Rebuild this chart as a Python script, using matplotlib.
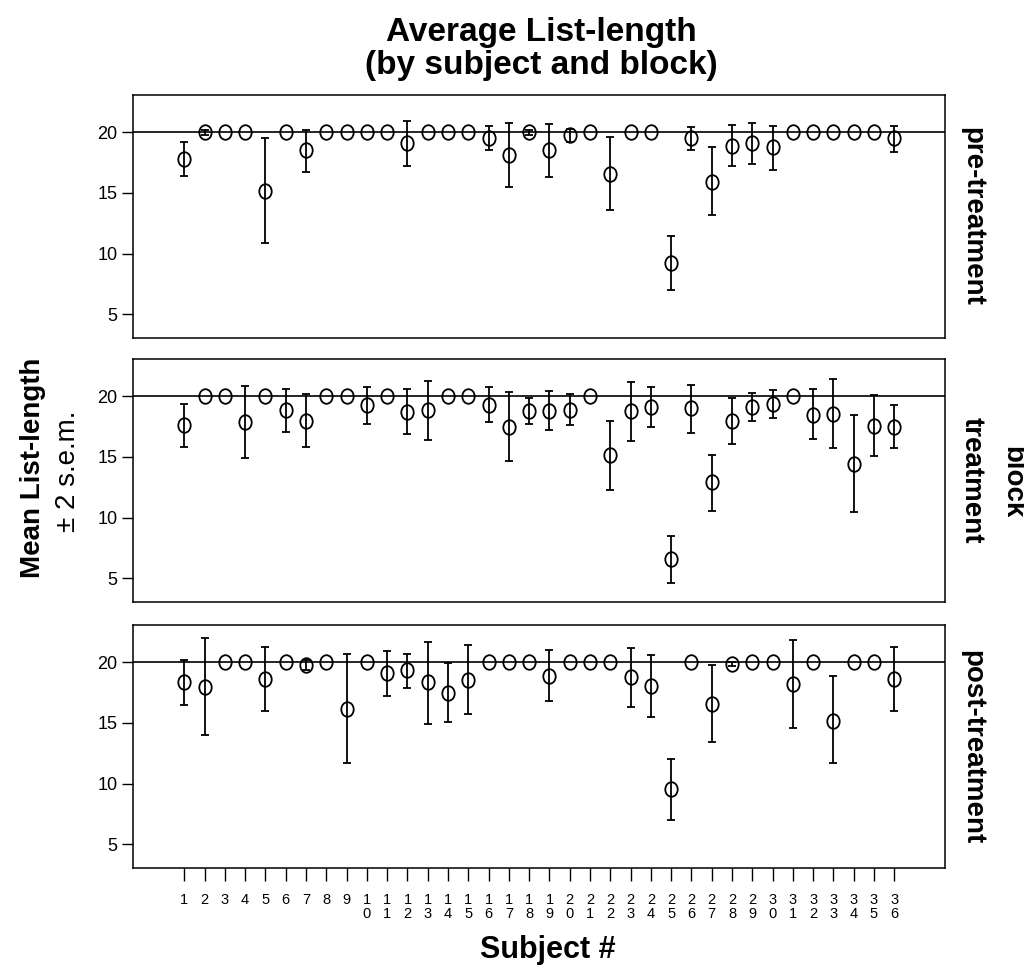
import numpy as np
import matplotlib
matplotlib.use("Agg")
import matplotlib.pyplot as plt
from matplotlib.path import Path

plt.rcParams['font.family'] = ['Liberation Sans', 'DejaVu Sans']

nan = np.nan
subjects = list(range(1, 37))
blocks = ["pre-treatment", "treatment", "post-treatment"]

# mean, lower and upper end of the +-2 s.e.m. bar (nan = no bar)
pre_mean = [17.8, 20.0, 20, 20, 15.2, 20, 18.5, 20, 20, 20, 20, 19.1, 20, 20, 20, 19.5, 18.1, 20.0,
            18.5, 19.75, 20, 16.6, 20, 20, 9.25, 19.5, 15.9, 18.9, 19.1, 18.75, 20, 20, 20, 20, 20, 19.5]
pre_lo = [16.4, 19.8, nan, nan, 10.9, nan, 16.75, nan, nan, nan, nan, 17.2, nan, nan, nan, 18.5, 15.45, 19.8,
          16.35, 19.2, nan, 13.6, nan, nan, 7.0, 18.55, 13.15, 17.2, 17.35, 16.9, nan, nan, nan, nan, nan, 18.4]
pre_hi = [19.2, 20.2, nan, nan, 19.5, nan, 20.2, nan, nan, nan, nan, 20.9, nan, nan, nan, 20.5, 20.75, 20.2,
          20.65, 20.25, nan, 19.65, nan, nan, 11.45, 20.45, 18.75, 20.6, 20.75, 20.55, nan, nan, nan, nan, nan, 20.55]

trt_mean = [17.6, 20, 20, 17.85, 20, 18.85, 18.0, 20, 20, 19.25, 20, 18.7, 18.85, 20, 20, 19.3, 17.5, 18.75,
            18.8, 18.9, 20, 15.15, 18.75, 19.1, 6.55, 19.0, 12.9, 18.0, 19.15, 19.4, 20, 18.45, 18.55, 14.45, 17.55, 17.45]
trt_lo = [15.85, nan, nan, 14.9, nan, 17.05, 15.8, nan, nan, 17.75, nan, 16.85, 16.4, nan, nan, 17.85, 14.65, 17.7,
          17.25, 17.65, nan, 12.3, 16.35, 17.45, 4.6, 17.0, 10.55, 16.05, 18.0, 18.2, nan, 16.45, 15.7, 10.45, 15.05, 15.75]
trt_hi = [19.4, nan, nan, 20.85, nan, 20.6, 20.2, nan, nan, 20.8, nan, 20.6, 21.25, nan, nan, 20.75, 20.35, 19.9,
          20.4, 20.15, nan, 18.0, 21.2, 20.75, 8.45, 20.95, 15.2, 19.9, 20.3, 20.55, nan, 20.6, 21.4, 18.45, 20.1, 19.25]

post_mean = [18.35, 17.95, 20, 20, 18.65, 20, 19.75, 20, 16.15, 20, 19.1, 19.35, 18.35, 17.5, 18.55, 20, 20, 20,
             18.9, 20, 20, 20, 18.75, 18.05, 9.55, 20, 16.6, 19.85, 20, 20, 18.2, 20, 15.2, 20, 20, 18.65]
post_lo = [16.45, 14.0, nan, nan, 15.95, nan, 19.35, nan, 11.7, nan, 17.25, 17.9, 14.95, 15.05, 15.7, nan, nan, nan,
           16.8, nan, nan, nan, 16.35, 15.5, 7.0, nan, 13.45, 19.7, nan, nan, 14.55, nan, 11.7, nan, nan, 16.0]
post_hi = [20.2, 22.0, nan, nan, 21.3, nan, 20.2, nan, 20.65, nan, 20.9, 20.7, 21.7, 19.95, 21.45, nan, nan, nan,
           21.05, nan, nan, nan, 21.2, 20.6, 12.05, nan, 19.75, 20.05, nan, nan, 21.85, nan, 18.85, nan, nan, 21.3]

means = [pre_mean, trt_mean, post_mean]
lows = [pre_lo, trt_lo, post_lo]
highs = [pre_hi, trt_hi, post_hi]

# slightly tall open circle, like the original
uc = Path.unit_circle()
oval = Path(uc.vertices * [0.85, 1.0], uc.codes)

fig = plt.figure(figsize=(10.24, 9.68), dpi=100)

left, width = 133 / 1024, 812 / 1024
bottoms = [1 - 338 / 968, 1 - 602 / 968, 1 - 868 / 968]
height = 242.7 / 968

for i in range(3):
    ax = fig.add_axes([left, bottoms[i], width, height])
    x = np.array(subjects)
    m = np.array(means[i], dtype=float)
    lo = np.array(lows[i], dtype=float)
    hi = np.array(highs[i], dtype=float)

    ax.axhline(20, color='black', lw=1.2, zorder=1)

    has = ~np.isnan(lo)
    ax.errorbar(x[has], m[has], yerr=[m[has] - lo[has], hi[has] - m[has]],
                fmt='none', ecolor='black', elinewidth=1.3, capsize=3, capthick=1.3, zorder=2)
    ax.plot(x, m, linestyle='none', marker=oval, markersize=10.5,
            markerfacecolor='none', markeredgecolor='black', markeredgewidth=1.3, zorder=3)

    ax.set_xlim(-1.53, 38.5)
    ax.set_ylim(3.04, 23.05)
    ax.set_yticks([5, 10, 15, 20])
    ax.tick_params(axis='y', direction='out', length=8, width=1, labelsize=13, pad=3)
    for s in ax.spines.values():
        s.set_linewidth(1.1)

    if i == 2:
        ax.set_xticks(subjects)
        ax.set_xticklabels(['\n'.join(str(s)) for s in subjects], fontsize=10.5, linespacing=1.0)
        ax.tick_params(axis='x', direction='out', length=9, width=1, pad=9)
    else:
        ax.set_xticks([])

    ax.text(1.033, 0.5, blocks[i], transform=ax.transAxes, rotation=-90,
            ha='center', va='center', fontsize=20, fontweight='bold')

fig.text(0.529, 1 - 49 / 968, "Average List-length\n(by subject and block)",
         ha='center', va='center', fontsize=24, fontweight='bold', linespacing=1.05)
fig.text(33 / 1024, 1 - 468 / 968, "Mean List-length", rotation=90,
         ha='center', va='center', fontsize=20, fontweight='bold')
fig.text(68 / 1024, 1 - 471 / 968, "± 2 s.e.m.", rotation=90,
         ha='center', va='center', fontsize=20)
fig.text(1012 / 1024, 1 - 482 / 968, "block", rotation=-90,
         ha='center', va='center', fontsize=20, fontweight='bold')
fig.text(0.535, 1 - 950 / 968, "Subject #", ha='center', va='center',
         fontsize=22, fontweight='bold')

fig.savefig("out.png", dpi=100)
